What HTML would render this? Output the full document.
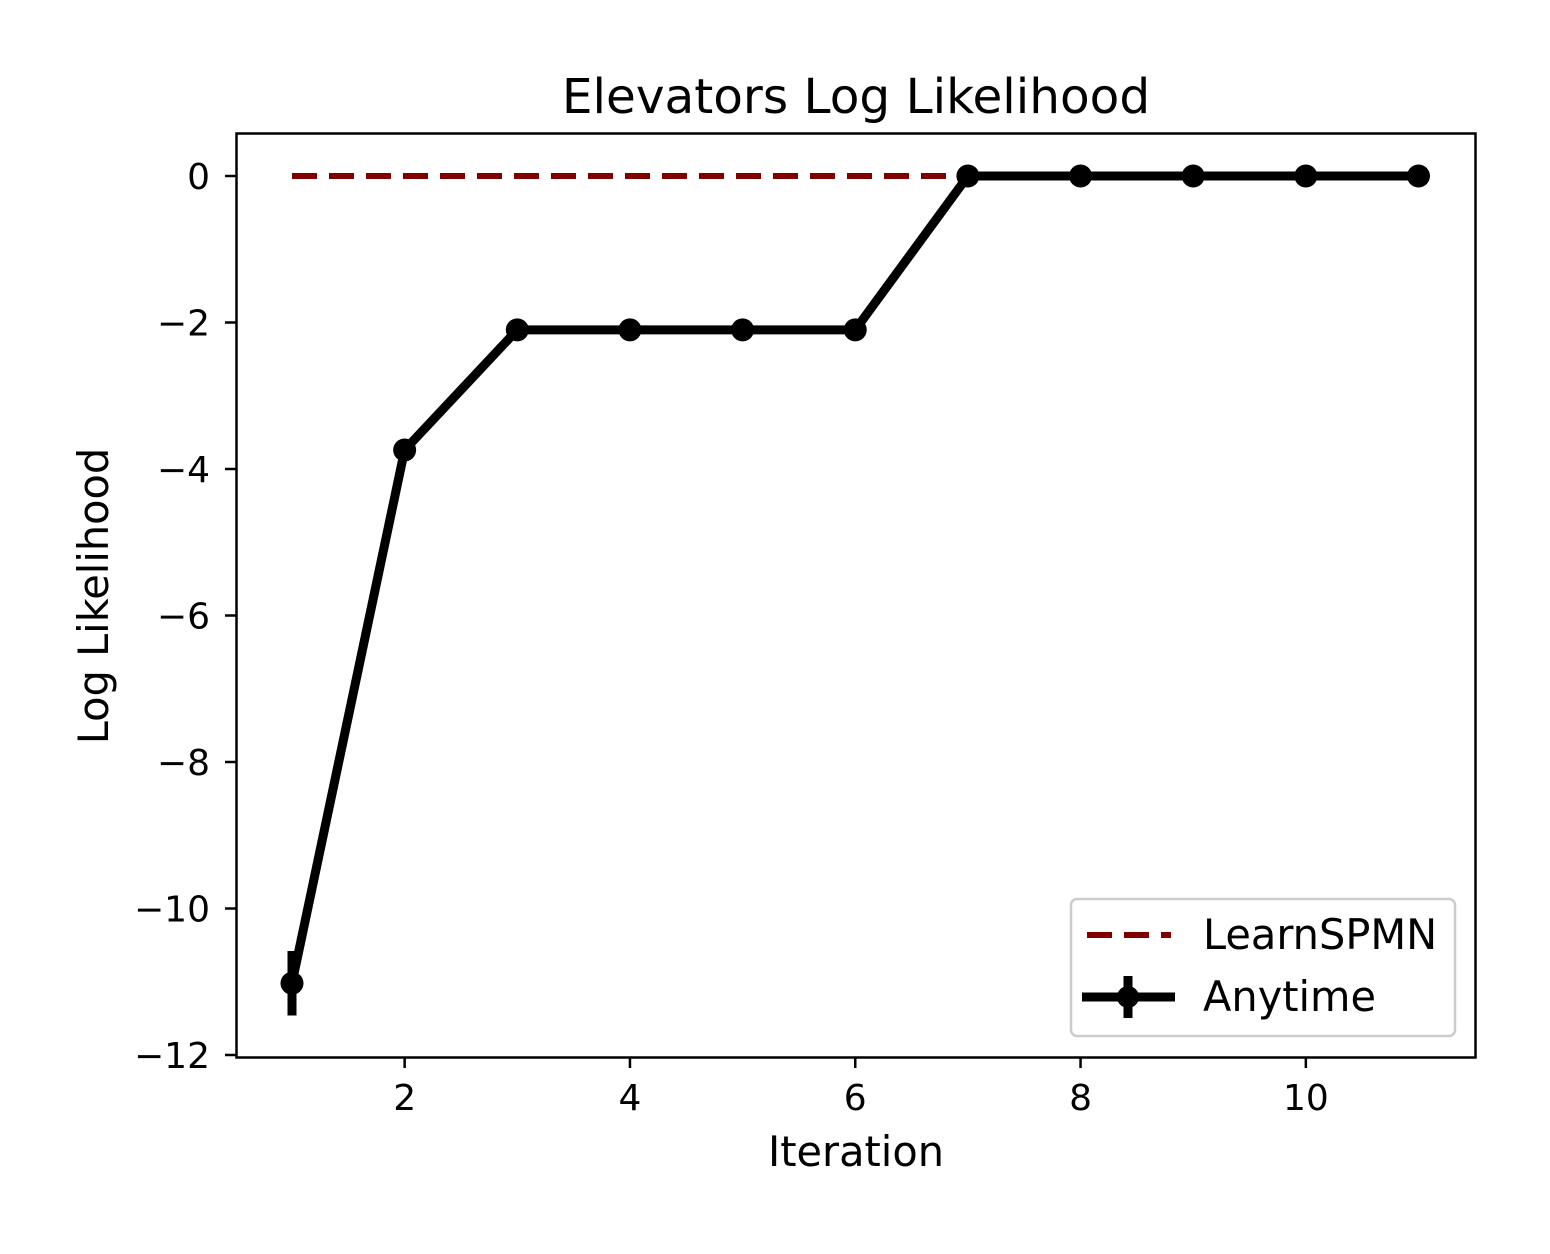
<!DOCTYPE html>
<html><head><meta charset="utf-8"><style>
html,body{margin:0;padding:0;background:#fff}
svg text{font-family:"DejaVu Sans","Liberation Sans",sans-serif;fill:#000}
</style></head><body>
<svg id="chart" width="1550" height="1249" xmlns="http://www.w3.org/2000/svg">
<rect width="1550" height="1249" fill="#fff"/>
<text x="856" y="113" font-size="48.5" text-anchor="middle">Elevators Log Likelihood</text>
<text x="856" y="1166" font-size="41.5" text-anchor="middle">Iteration</text>
<text transform="translate(108,596) rotate(-90)" font-size="41.5" text-anchor="middle">Log Likelihood</text>
<g id="plot"></g>
<rect x="236.5" y="133.5" width="1239" height="924" fill="none" stroke="#000" stroke-width="2.5"/>
<g>
<rect x="1071" y="899" width="384" height="137" rx="6" fill="#fff" fill-opacity="0.8" stroke="#ccc" stroke-width="2.5"/>
<line x1="1087" y1="935" x2="1171" y2="935" stroke="#800000" stroke-width="6" stroke-dasharray="25 12"/>
<text x="1203" y="949" font-size="41.5">LearnSPMN</text>
<line x1="1082" y1="997" x2="1175" y2="997" stroke="#000" stroke-width="9"/>
<line x1="1128" y1="976" x2="1128" y2="1018" stroke="#000" stroke-width="9"/>
<circle cx="1128" cy="997" r="11" fill="#000"/>
<text x="1203" y="1011" font-size="41.5">Anytime</text>
</g>
</svg>
<script>
const iterations=[1,2,3,4,5,6,7,8,9,10,11];
const anytimeValues=[-11.02,-3.74,-2.1,-2.1,-2.1,-2.1,0,0,0,0,0];
const anytimeErrors=[0.44,0,0,0,0,0,0,0,0,0,0];
const learnSpmnX=[1,7];
const learnSpmnValues=[0,0];
const xTicks=[2,4,6,8,10];
const yTicks=[0,-2,-4,-6,-8,-10,-12];

const NS='http://www.w3.org/2000/svg';
const xs=v=>292+(v-1)*112.65;
const ys=v=>176-v*73.25;
const g=document.getElementById('plot');
function mk(tag,attrs,parent){const e=document.createElementNS(NS,tag);for(const k in attrs)e.setAttribute(k,attrs[k]);(parent||g).appendChild(e);return e;}
xTicks.forEach(t=>{
  const l=mk('line',{x1:xs(t),x2:xs(t),y1:1057,y2:1068,stroke:'#000','stroke-width':2.5});
  
  
  const tx=mk('text',{x:xs(t),y:1110,'font-size':36,'text-anchor':'middle'});
  tx.textContent=String(t);
  
  
});
yTicks.forEach(t=>{
  const l=mk('line',{x1:225,x2:237,y1:ys(t),y2:ys(t),stroke:'#000','stroke-width':2.5});
  
  
  const tx=mk('text',{x:210,y:ys(t)+13,'font-size':36,'text-anchor':'end'});
  tx.textContent=(t<0?'\u2212':'')+Math.abs(t);
  
  
});
const dl=mk('polyline',{points:learnSpmnX.map((x,i)=>xs(x)+','+ys(learnSpmnValues[i])).join(' '),fill:'none',stroke:'#800000','stroke-width':6,'stroke-dasharray':'25 12'});


const al=mk('polyline',{points:iterations.map((x,i)=>xs(x)+','+ys(anytimeValues[i])).join(' '),fill:'none',stroke:'#000','stroke-width':9,'stroke-linejoin':'round'});


iterations.forEach((x,i)=>{
  if(anytimeErrors[i]>0){
    const e=mk('line',{x1:xs(x),x2:xs(x),y1:ys(anytimeValues[i]+anytimeErrors[i]),y2:ys(anytimeValues[i]-anytimeErrors[i]),stroke:'#000','stroke-width':9});
    
    
  }
  const c=mk('circle',{cx:xs(x),cy:ys(anytimeValues[i]),r:11.5,fill:'#000'});
  
  
});
</script>
</body></html>
